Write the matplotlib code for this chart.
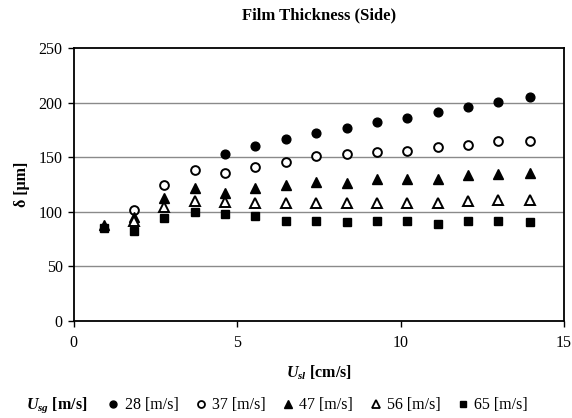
import matplotlib
matplotlib.use("Agg")
import matplotlib.pyplot as plt
from matplotlib.lines import Line2D

plt.rcParams['font.family'] = ['Liberation Serif', 'DejaVu Serif']
plt.rcParams['mathtext.fontset'] = 'custom'
plt.rcParams['mathtext.rm'] = 'Liberation Serif'
plt.rcParams['mathtext.it'] = 'Liberation Serif:italic:bold'
plt.rcParams['mathtext.bf'] = 'Liberation Serif:bold'

x_all = [0.91, 1.83, 2.77, 3.72, 4.63, 5.55, 6.49, 7.41, 8.35, 9.27, 10.21, 11.13, 12.07, 12.99, 13.96]

x28 = x_all[4:]
y28 = [153, 160, 167, 172, 177, 182, 186, 191, 196, 201, 205]

x37 = x_all[1:]
y37 = [102, 125, 138, 136, 141, 146, 151, 153, 155, 156, 159, 161, 165, 165]

x47 = x_all
y47 = [88, 95, 113, 122, 117, 122, 125, 127, 126, 130, 130, 130, 134, 135, 136]

x56 = x_all[1:]
y56 = [92, 104, 110, 109, 108, 108, 108, 108, 108, 108, 108, 110, 111, 111]

x65 = x_all
y65 = [85, 82, 94, 100, 98, 96, 92, 92, 91, 92, 92, 89, 92, 92, 91]

labels = ['28 [m/s]', '37 [m/s]', '47 [m/s]', '56 [m/s]', '65 [m/s]']

fig = plt.figure(figsize=(5.72, 4.18), dpi=100)
ax = fig.add_axes([0.129, 0.232, 0.857, 0.653])

for yv in [50, 100, 150, 200]:
    ax.axhline(yv, color='#8a8a8a', lw=1.0, zorder=0)

ms = 6.3
ax.plot(x28, y28, 'o', color='black', ms=ms, ls='none', zorder=3)
ax.plot(x37, y37, 'o', mfc='white', mec='black', mew=1.4, ms=ms, ls='none', zorder=3)
ax.plot(x47, y47, '^', color='black', ms=ms + 1, ls='none', zorder=3)
ax.plot(x56, y56, '^', mfc='white', mec='black', mew=1.4, ms=ms + 1, ls='none', zorder=3)
ax.plot(x65, y65, 's', color='black', ms=ms, ls='none', zorder=3)

ax.set_xlim(0, 15)
ax.set_ylim(0, 250)
ax.set_xticks([0, 5, 10, 15])
ax.set_yticks([0, 50, 100, 150, 200, 250])
ax.tick_params(direction='out', length=4, width=1, labelsize=11.5, pad=4)
ax.tick_params(axis='x', pad=6)
for s in ax.spines.values():
    s.set_linewidth(1.3)
    s.set_color('black')

ax.set_title('Film Thickness (Side)', fontsize=12, fontweight='bold', pad=21)
ax.set_ylabel('δ [μm]', fontsize=11.5, fontweight='bold', labelpad=6)
ax.set_xlabel(r'$U_{sl}$ [cm/s]', fontsize=11.5, fontweight='bold', labelpad=9)

handles = [
    Line2D([], [], marker='o', color='black', ls='none', ms=5),
    Line2D([], [], marker='o', mfc='white', mec='black', mew=1.3, ls='none', ms=5),
    Line2D([], [], marker='^', color='black', ls='none', ms=6),
    Line2D([], [], marker='^', mfc='white', mec='black', mew=1.3, ls='none', ms=6),
    Line2D([], [], marker='s', color='black', ls='none', ms=5),
]
fig.legend(handles, labels, ncol=5, loc='center', bbox_to_anchor=(0.555, 0.03),
           frameon=False, fontsize=11.5, handlelength=0.8, handletextpad=0.3,
           columnspacing=1.0, borderpad=0)
fig.text(0.046, 0.03, r'$U_{sg}$ [m/s]', fontsize=11.5, fontweight='bold',
         va='center', ha='left')

fig.savefig('out.png', dpi=100)
